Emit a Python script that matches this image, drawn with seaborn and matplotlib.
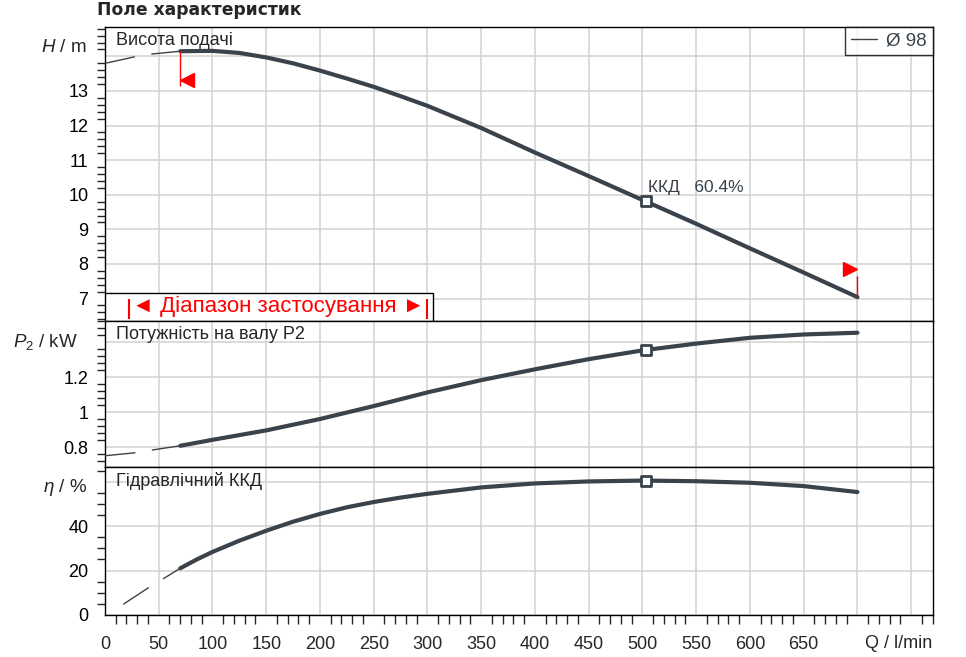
import matplotlib
matplotlib.use("Agg")
import matplotlib.pyplot as plt
import seaborn as sns
from matplotlib.lines import Line2D
from matplotlib.patches import Rectangle
from matplotlib.ticker import MultipleLocator, FuncFormatter

# Head curve, working part (Q in l/min, H in m)
q_head = [70, 100, 125, 150, 175, 200, 225, 250, 275, 300, 350, 400, 450, 500, 550, 600, 650, 700]
head = [14.15, 14.16, 14.10, 13.97, 13.80, 13.59, 13.36, 13.12, 12.85, 12.57, 11.93, 11.22,
        10.54, 9.85, 9.16, 8.45, 7.75, 7.04]

# Shaft power P2, kW
q_power = [70, 100, 150, 200, 250, 300, 350, 400, 450, 500, 550, 600, 650, 700]
power = [0.809, 0.843, 0.897, 0.962, 1.036, 1.114, 1.184, 1.246, 1.304, 1.354, 1.393, 1.426,
         1.445, 1.455]

# Hydraulic efficiency, %
q_eff = [70, 85, 100, 125, 150, 175, 200, 225, 250, 275, 300, 350, 400, 450, 500, 550, 600, 650, 700]
eff = [21.0, 24.9, 28.4, 33.5, 38.0, 42.1, 45.6, 48.6, 51.0, 53.0, 54.7, 57.6, 59.4, 60.3, 60.7,
       60.4, 59.7, 58.2, 55.5]

# part of the curves below the minimum flow (dashed)
q_low = [0, 28, 44, 70]
head_low = [13.80, 13.99, 14.07, 14.15]
power_low = [0.752, 0.769, 0.785, 0.809]
q_low_eff = [17, 41, 55, 70]
eff_low = [4.7, 12.4, 16.5, 21.0]

# best efficiency point
bep_q = 503
bep_head = 9.83
bep_power = 1.357
bep_eff = 60.6
bep_text = "ККД   60.4%"

# limits of the operating range
q_min, q_max = 70, 700
range_bars = [22, 300]

dark = "#3a434b"
grid_c = "#d2d2d2"

sns.set_style("white")
plt.rcParams["font.family"] = ["Liberation Sans", "DejaVu Sans"]
plt.rcParams["mathtext.fontset"] = "custom"
plt.rcParams["mathtext.rm"] = "Liberation Sans"
plt.rcParams["mathtext.it"] = "Liberation Sans:italic"

W, H = 966, 657
fig = plt.figure(figsize=(W / 100, H / 100), dpi=100)


def fx(x):
    return x / W


def fy(y):
    return 1 - y / H


left, right = fx(105), fx(932.7)
ax_h = fig.add_axes([left, fy(321), right - left, fy(27) - fy(321)])
ax_p = fig.add_axes([left, fy(467.3), right - left, fy(321) - fy(467.3)], sharex=ax_h)
ax_e = fig.add_axes([left, fy(614.7), right - left, fy(467.3) - fy(614.7)], sharex=ax_h)
axes = [ax_h, ax_p, ax_e]

for ax in axes:
    ax.set_xlim(0, 770)
    ax.xaxis.set_major_locator(MultipleLocator(50))
    ax.xaxis.set_minor_locator(MultipleLocator(10))
    ax.grid(True, which="major", color=grid_c, lw=1.1, zorder=0)
    ax.set_axisbelow(True)
    ax.tick_params(axis="y", which="major", direction="out", length=10, width=1,
                   pad=2, labelsize=13, colors="black")
    ax.tick_params(axis="y", which="minor", direction="out", length=6, width=1, left=True)
    for s in ax.spines.values():
        s.set_color("black")
        s.set_linewidth(1)

ax_h.tick_params(axis="x", which="both", bottom=False, labelbottom=False)
ax_p.tick_params(axis="x", which="both", bottom=False, labelbottom=False)
ax_e.tick_params(axis="x", which="major", direction="out", length=10, width=1, pad=5, labelsize=13)
ax_e.tick_params(axis="x", which="minor", direction="out", length=6.5, width=1, bottom=True)
ax_e.xaxis.set_major_formatter(FuncFormatter(lambda v, p: "" if v >= 700 else f"{v:g}"))

# head panel
ax_h.set_ylim(6.35, 14.85)
ax_h.yaxis.set_major_locator(MultipleLocator(1))
ax_h.yaxis.set_minor_locator(MultipleLocator(0.2))
ax_h.yaxis.set_major_formatter(FuncFormatter(lambda v, p: "" if v > 13.5 else f"{v:g}"))
sns.lineplot(x=q_low, y=head_low, ax=ax_h, color=dark, lw=1, linestyle=(0, (22, 12)), zorder=4)
sns.lineplot(x=q_head, y=head, ax=ax_h, color=dark, lw=3, zorder=5)
ax_h.scatter([bep_q], [bep_head], marker="s", s=45, facecolor="white", edgecolor=dark,
             linewidths=2, zorder=6)
ax_h.text(bep_q + 2, bep_head + 0.25, bep_text, fontsize=12.5, color=dark, zorder=6)

# red markers of the operating range on the head curve
ax_h.vlines(q_min, 13.13, 14.15, color="red", lw=1, zorder=6)
ax_h.plot([q_min + 6.5], [13.33], marker="<", ms=10, color="red", ls="none", zorder=6)
ax_h.vlines(q_max, 7.04, 7.66, color="red", lw=1, zorder=6)
ax_h.plot([q_max - 6.5], [7.85], marker=">", ms=10, color="red", ls="none", zorder=6)

# range box
ax_h.add_patch(Rectangle((0, 6.35), 305, 0.8, facecolor="white", edgecolor="black",
                         lw=1, zorder=3))
ax_h.vlines(range_bars, 6.4, 6.98, color="red", lw=1.5, zorder=4)
ax_h.text(sum(range_bars) / 2, 6.78, "◄ Діапазон застосування ►", color="red",
          fontsize=16, ha="center", va="center", zorder=4)

leg = ax_h.legend(handles=[Line2D([], [], color=dark, lw=1)], labels=["Ø 98"],
                  loc="upper right", frameon=True, fancybox=False, borderaxespad=0,
                  handlelength=1.4, handletextpad=0.5, fontsize=13.5, borderpad=0.3,
                  labelcolor=dark)
leg.get_frame().set_edgecolor("black")
leg.get_frame().set_linewidth(1)
leg.set_zorder(7)

# power panel
ax_p.set_ylim(0.686, 1.522)
ax_p.yaxis.set_major_locator(MultipleLocator(0.2))
ax_p.yaxis.set_minor_locator(MultipleLocator(0.04))
ax_p.yaxis.set_major_formatter(FuncFormatter(lambda v, p: "" if v > 1.3 else f"{v:g}"))
sns.lineplot(x=q_low, y=power_low, ax=ax_p, color=dark, lw=1, linestyle=(0, (22, 12)), zorder=4)
sns.lineplot(x=q_power, y=power, ax=ax_p, color=dark, lw=3, zorder=5)
ax_p.scatter([bep_q], [bep_power], marker="s", s=45, facecolor="white", edgecolor=dark,
             linewidths=2, zorder=6)

# efficiency panel
ax_e.set_ylim(0, 66.7)
ax_e.yaxis.set_major_locator(MultipleLocator(20))
ax_e.yaxis.set_minor_locator(MultipleLocator(5))
ax_e.yaxis.set_major_formatter(FuncFormatter(lambda v, p: "" if v > 50 else f"{v:g}"))
sns.lineplot(x=q_low_eff, y=eff_low, ax=ax_e, color=dark, lw=1, linestyle=(0, (22, 12)), zorder=4)
sns.lineplot(x=q_eff, y=eff, ax=ax_e, color=dark, lw=3, zorder=5)
ax_e.scatter([bep_q], [bep_eff], marker="s", s=45, facecolor="white", edgecolor=dark,
             linewidths=2, zorder=6)

for ax in axes:
    ax.set_xlabel("")
    ax.set_ylabel("")

# panel captions
fig.text(fx(116.5), fy(45), "Висота подачі", fontsize=13, va="baseline")
fig.text(fx(116.5), fy(339), "Потужність на валу Р2", fontsize=13, va="baseline")
fig.text(fx(116.5), fy(486.5), "Гідравлічний ККД", fontsize=13, va="baseline")

# axis labels
fig.text(fx(87), fy(47.5), "$H$ / m", fontsize=13.5, ha="right", va="center")
fig.text(fx(78), fy(341.5), "$P_2$ / kW", fontsize=13.5, ha="right", va="center")
fig.text(fx(87), fy(488), r"$\eta$ / %", fontsize=13.5, ha="right", va="center")
fig.text(fx(932.7), fy(643), "Q / l/min", fontsize=13, ha="right", va="center")

fig.text(fx(97), fy(15), "Поле характеристик", fontsize=12.3, fontweight="bold",
         family="DejaVu Sans", va="baseline")

fig.savefig("out.png", dpi=100)
